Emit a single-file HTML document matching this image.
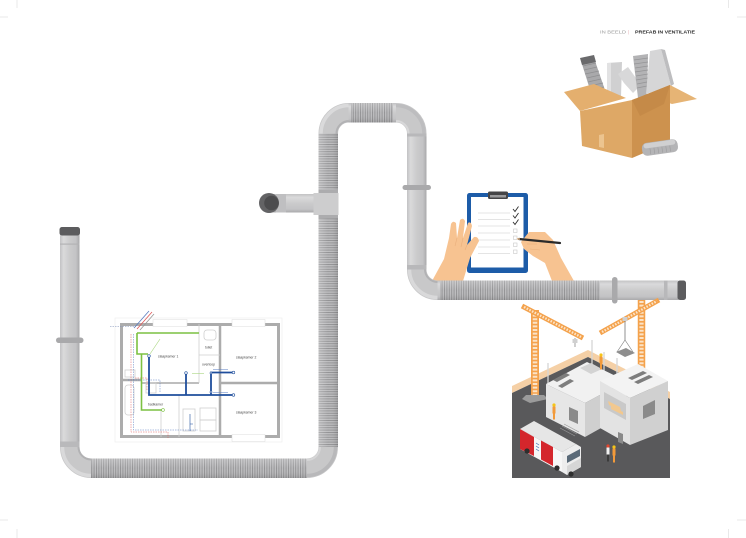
<!DOCTYPE html>
<html><head><meta charset="utf-8">
<style>html,body{margin:0;padding:0;background:#fff;}svg{display:block}</style>
</head>
<body>
<svg width="746" height="538" viewBox="0 0 746 538" xmlns="http://www.w3.org/2000/svg" font-family="Liberation Sans, sans-serif">
<defs>
 <linearGradient id="gv" x1="0" y1="0" x2="1" y2="0">
  <stop offset="0" stop-color="#c2c2c4"/><stop offset="0.18" stop-color="#dadadb"/><stop offset="0.5" stop-color="#cbcbcc"/><stop offset="0.82" stop-color="#c3c3c5"/><stop offset="1" stop-color="#a9a9ab"/>
 </linearGradient>
 <linearGradient id="gh" x1="0" y1="0" x2="0" y2="1">
  <stop offset="0" stop-color="#c2c2c4"/><stop offset="0.18" stop-color="#dadadb"/><stop offset="0.5" stop-color="#cbcbcc"/><stop offset="0.82" stop-color="#c3c3c5"/><stop offset="1" stop-color="#a9a9ab"/>
 </linearGradient>
 <linearGradient id="sv" x1="0" y1="0" x2="1" y2="0">
  <stop offset="0" stop-color="#fff" stop-opacity="0.25"/><stop offset="0.5" stop-color="#fff" stop-opacity="0"/><stop offset="1" stop-color="#000" stop-opacity="0.12"/>
 </linearGradient>
 <linearGradient id="sh" x1="0" y1="0" x2="0" y2="1">
  <stop offset="0" stop-color="#fff" stop-opacity="0.25"/><stop offset="0.5" stop-color="#fff" stop-opacity="0"/><stop offset="1" stop-color="#000" stop-opacity="0.12"/>
 </linearGradient>
 <pattern id="cv" width="4" height="2.4" patternUnits="userSpaceOnUse">
  <rect width="4" height="2.4" fill="#bebec0"/><rect width="4" height="1" fill="#939395"/>
 </pattern>
 <pattern id="ch" width="2.4" height="4" patternUnits="userSpaceOnUse">
  <rect width="2.4" height="4" fill="#bebec0"/><rect width="1" height="4" fill="#939395"/>
 </pattern>
</defs>

<!-- crop marks -->
<g stroke="#dadada" stroke-width="0.6">
 <line x1="17" y1="0" x2="17" y2="8"/><line x1="0" y1="17" x2="8" y2="17"/>
 <line x1="728.5" y1="0" x2="728.5" y2="8"/><line x1="737" y1="17" x2="746" y2="17"/>
 <line x1="0" y1="520" x2="8" y2="520"/><line x1="17" y1="529" x2="17" y2="538"/>
 <line x1="737" y1="520" x2="746" y2="520"/><line x1="728.5" y1="529" x2="728.5" y2="538"/>
</g>

<!-- header -->
<text x="600" y="33.5" font-size="4.3" fill="#9b9b9b" textLength="26" lengthAdjust="spacingAndGlyphs">IN BEELD</text>
<text x="628.3" y="33.5" font-size="4.3" fill="#e3a3a8">|</text>
<text x="635" y="33.5" font-size="4.3" font-weight="bold" fill="#2b2b2b" textLength="60" lengthAdjust="spacingAndGlyphs">PREFAB IN VENTILATIE</text>

<!-- ===== BOX ===== -->
<g>
 <polygon points="581,61 594,58 606,93 592,96" fill="#a9a9ab"/>
 <g stroke="#8f8f91" stroke-width="0.8">
  <line x1="583" y1="66" x2="596" y2="63"/><line x1="584" y1="70" x2="597" y2="67"/><line x1="585" y1="74" x2="599" y2="71"/>
  <line x1="587" y1="78" x2="600" y2="75"/><line x1="588" y1="82" x2="601" y2="79"/><line x1="589" y1="86" x2="603" y2="83"/><line x1="590" y1="90" x2="604" y2="87"/>
 </g>
 <polygon points="580,58 594,55 596,62 582,65" fill="#6a6a6c"/>
 <polygon points="607,63 622,62 621,97 607,97" fill="#d0d0d1"/>
 <polygon points="607,63 611,63 611,97 607,97" fill="#e2e2e3"/>
 <polygon points="618,74 628,67 641,85 633,93 624,83" fill="#d8d8d9"/>
 <polygon points="633,56 648,54 647,98 638,98" fill="#b3b3b5"/>
 <g stroke="#959597" stroke-width="0.8">
  <line x1="634" y1="60" x2="648" y2="58"/><line x1="634" y1="64" x2="648" y2="62"/><line x1="635" y1="68" x2="648" y2="66"/><line x1="635" y1="72" x2="648" y2="70"/>
  <line x1="636" y1="76" x2="648" y2="74"/><line x1="636" y1="80" x2="648" y2="78"/><line x1="637" y1="84" x2="647" y2="82"/><line x1="637" y1="88" x2="647" y2="86"/>
 </g>
 <polygon points="650,51 661,49 671,86 646,94" fill="#d6d6d7"/>
 <polygon points="661,49 665,50 674,84 671,86" fill="#bdbdbf"/>
 <!-- flaps -->
 <polygon points="564,92 594,84 626,98 580,111" fill="#e4af6e"/>
 <polygon points="646,95 670,85 697,99 672,104" fill="#e6b475"/>
 <!-- faces -->
 <polygon points="580,111 632,100 632,158 582,146" fill="#dea866"/>
 <polygon points="632,100 670,85 670,142 632,158" fill="#cd924e"/>
 <polygon points="632,100 670,85 664,104 640,116" fill="#c58a48"/>
 <polygon points="599,135 604,134 604,148 599,147" fill="#ecc48f"/>
 <!-- flat duct -->
 <g transform="rotate(-8 660 148)">
  <rect x="642" y="141" width="36" height="13" rx="5" fill="#b4b4b6"/>
  <rect x="644" y="141.5" width="32" height="5" rx="2.5" fill="#d0d0d1"/>
  <g stroke="#9c9c9e" stroke-width="0.6"><line x1="650" y1="147" x2="650" y2="153"/><line x1="654" y1="147" x2="654" y2="153"/><line x1="658" y1="147" x2="658" y2="153"/><line x1="662" y1="147" x2="662" y2="153"/><line x1="666" y1="147" x2="666" y2="153"/><line x1="670" y1="147" x2="670" y2="153"/></g>
 </g>
</g>

<!-- ===== PIPES ===== -->
<!-- left vertical A -->
<rect x="60" y="234" width="19.5" height="213" fill="url(#gv)"/>
<rect x="60" y="243.5" width="19.5" height="1.2" fill="#b3b3b5"/>
<rect x="60" y="441.5" width="19.5" height="5.5" fill="#b9b9bb"/>
<rect x="59.5" y="227" width="20.5" height="8.5" rx="2.5" fill="#5c5c5e"/>
<rect x="56" y="337.5" width="27.5" height="5.5" rx="2.7" fill="#a9a9ab"/>
<!-- elbow A -->
<path d="M69.75 447 A21.25 21.25 0 0 0 91 468.25" fill="none" stroke="#c8c8c9" stroke-width="19.5"/>
<path d="M62.5 447 A28.5 28.5 0 0 0 91 475.5" fill="none" stroke="#d9d9da" stroke-width="3.5"/>
<path d="M78.5 447 A12.5 12.5 0 0 0 91 459.5" fill="none" stroke="#b2b2b4" stroke-width="2"/>
<!-- bottom horizontal B -->
<rect x="91" y="458.5" width="216" height="19.5" fill="url(#ch)"/>
<rect x="91" y="458.5" width="216" height="19.5" fill="url(#sh)"/>
<!-- elbow C -->
<path d="M307 468.25 A21.25 21.25 0 0 0 328.25 447" fill="none" stroke="#c8c8c9" stroke-width="19.5"/>
<path d="M307 475.5 A28.5 28.5 0 0 0 335.5 447" fill="none" stroke="#b8b8ba" stroke-width="3.5"/>
<path d="M307 460 A13 13 0 0 0 320 447" fill="none" stroke="#d6d6d7" stroke-width="2"/>
<!-- vertical D corrugated -->
<rect x="318.5" y="133.5" width="19.5" height="313.5" fill="url(#cv)"/>
<rect x="318.5" y="133.5" width="19.5" height="313.5" fill="url(#sv)"/>
<!-- elbow E -->
<path d="M328.25 133.5 A20.75 20.75 0 0 1 349 112.75" fill="none" stroke="#c8c8c9" stroke-width="19.5"/>
<path d="M321 133.5 A28 28 0 0 1 349 105.5" fill="none" stroke="#dadadb" stroke-width="3.5"/>
<path d="M336.5 133.5 A12.5 12.5 0 0 1 349 121" fill="none" stroke="#b2b2b4" stroke-width="2"/>
<!-- top horizontal F -->
<rect x="348.5" y="103" width="48" height="19.5" fill="url(#gh)"/>
<rect x="351" y="103" width="42" height="19.5" fill="url(#ch)"/>
<rect x="351" y="103" width="42" height="19.5" fill="url(#sh)"/>
<!-- elbow top-right -->
<path d="M396 112.75 A20.75 20.75 0 0 1 416.75 133.5" fill="none" stroke="#c8c8c9" stroke-width="19.5"/>
<path d="M396 105.5 A28 28 0 0 1 424 133.5" fill="none" stroke="#bdbdbf" stroke-width="3.5"/>
<path d="M396 121 A12.5 12.5 0 0 1 408.5 133.5" fill="none" stroke="#d8d8d9" stroke-width="2"/>
<!-- vertical G -->
<rect x="407" y="133.5" width="19.5" height="136" fill="url(#gv)"/>
<rect x="407" y="133.5" width="19.5" height="3" fill="#b8b8ba"/>
<rect x="407" y="265" width="19.5" height="4.5" fill="#b8b8ba"/>
<rect x="402.5" y="185" width="28.5" height="5" rx="2.5" fill="#a9a9ab"/>

<!-- ===== CLIPBOARD & HANDS ===== -->
<rect x="467" y="193" width="61" height="80" rx="2.5" fill="#1d5ca8"/>
<rect x="471" y="197" width="52.5" height="70.5" fill="#fff"/>
<rect x="488" y="191.5" width="20" height="7.5" rx="1.5" fill="#454547"/>
<rect x="490" y="195" width="16" height="2.5" fill="#9a9a9c"/>
<g stroke="#e4e4e4" stroke-width="0.9">
 <line x1="478" y1="213" x2="510" y2="213"/><line x1="478" y1="219.5" x2="510" y2="219.5"/><line x1="478" y1="226" x2="510" y2="226"/>
 <line x1="478" y1="233" x2="510" y2="233"/><line x1="478" y1="240" x2="510" y2="240"/><line x1="478" y1="247" x2="510" y2="247"/><line x1="478" y1="253.5" x2="510" y2="253.5"/>
</g>
<g fill="none" stroke="#2d2d2d" stroke-width="0.9">
 <polyline points="513,209 515,211.5 518.5,206.5"/><polyline points="513,215.5 515,218 518.5,213"/><polyline points="513,222 515,224.5 518.5,219.5"/>
</g>
<g fill="none" stroke="#c8c8c8" stroke-width="0.6">
 <rect x="513.5" y="229" width="3.5" height="3.5"/><rect x="513.5" y="236" width="3.5" height="3.5"/><rect x="513.5" y="243" width="3.5" height="3.5"/><rect x="513.5" y="250" width="3.5" height="3.5"/>
</g>
<!-- left hand -->
<path d="M432 281 L444 259 L449 238 L451 224 Q453 220 456 223 L457 238 L460 220 Q463 217 465 221 L463 238 L468 223 Q471 221 472 226 L467 245 L474 237 Q478 236 479 241 L470 258 L463 281 Z" fill="#f7c391"/>
<g stroke="#eab07c" stroke-width="0.6" fill="none"><line x1="457" y1="238" x2="455" y2="246"/><line x1="463" y1="238" x2="461" y2="247"/><line x1="467" y1="245" x2="465" y2="250"/></g>
<!-- right hand -->
<path d="M521 242 L529 232 L545 232 L553 240 L561 258 L574 281 L552 281 L545 263 L533 256 L524 249 Z" fill="#f7c391"/>
<g stroke="#eab07c" stroke-width="0.6" fill="none"><path d="M527 244 L537 244"/><path d="M530 249 L540 250"/></g>
<line x1="519" y1="239" x2="560" y2="243" stroke="#2b2b2b" stroke-width="2.2" stroke-linecap="round"/>
<line x1="517" y1="238.8" x2="520" y2="239.1" stroke="#e2b78a" stroke-width="1.4"/>

<!-- elbow H + bottom pipe I -->
<path d="M416.75 269.5 A20.75 20.75 0 0 0 437.5 290.25" fill="none" stroke="#c8c8c9" stroke-width="19.5"/>
<path d="M409.5 269.5 A28 28 0 0 0 437.5 297.5" fill="none" stroke="#d9d9da" stroke-width="3.5"/>
<path d="M425 269.5 A12.5 12.5 0 0 0 437.5 282" fill="none" stroke="#b2b2b4" stroke-width="2"/>
<rect x="437.5" y="280.5" width="241" height="19.5" fill="url(#gh)"/>
<rect x="440" y="280.5" width="160" height="19.5" fill="url(#ch)"/>
<rect x="440" y="280.5" width="160" height="19.5" fill="url(#sh)"/>
<rect x="664" y="280.5" width="3.5" height="19.5" fill="#b8b8ba"/>
<rect x="612" y="277" width="5.5" height="26.5" rx="2.7" fill="#a9a9ab"/>
<rect x="677.5" y="280.5" width="8.5" height="19.5" rx="2.5" fill="#5c5c5e"/>

<!-- side branch J -->
<rect x="270" y="194" width="46" height="18.5" fill="url(#gh)"/>
<rect x="276" y="194" width="10" height="18.5" fill="#bfbfc1"/>
<circle cx="269" cy="203" r="10" fill="#636365"/>
<circle cx="271.5" cy="203" r="7.3" fill="#4c4c4e"/>
<rect x="318.5" y="189.5" width="19.5" height="3.5" fill="#acacae"/>
<rect x="318.5" y="215" width="19.5" height="3.5" fill="#acacae"/>
<rect x="313.5" y="193" width="25" height="22" fill="#cdcdce"/>

<!-- ===== FLOOR PLAN ===== -->
<g>
 <rect x="115" y="318" width="167" height="124" fill="#fff" stroke="#ececec" stroke-width="0.6"/>
 <rect x="121.5" y="324.5" width="157" height="112" fill="none" stroke="#acacac" stroke-width="3"/>
 <rect x="153" y="319.5" width="34" height="7" fill="#fff" stroke="#dedede" stroke-width="0.5"/>
 <rect x="232" y="319.5" width="33" height="7" fill="#fff" stroke="#dedede" stroke-width="0.5"/>
 <rect x="232" y="434.5" width="33" height="7" fill="#fff" stroke="#dedede" stroke-width="0.5"/>
 <g stroke="#acacac">
  <line x1="220" y1="324" x2="220" y2="437" stroke-width="2.5"/>
  <line x1="220" y1="383" x2="279" y2="383" stroke-width="2.5"/>
  <line x1="141" y1="383" x2="199" y2="383" stroke-width="1.8" stroke="#b5b5b5"/>
  <line x1="121" y1="380" x2="141" y2="380" stroke-width="2.5"/>
 </g>
 <g stroke="#cfcfcf" stroke-width="0.8" fill="none">
  <line x1="199" y1="324" x2="199" y2="383"/>
  <line x1="199" y1="355" x2="220" y2="355"/>
  <line x1="161" y1="410" x2="161" y2="437"/>
  <line x1="179" y1="395" x2="179" y2="437"/>
  <rect x="183" y="409" width="12" height="22"/>
  <rect x="200" y="408" width="16" height="12"/>
  <rect x="200" y="420" width="16" height="11"/>
  <rect x="125" y="385" width="9" height="30" rx="3"/>
  <rect x="125" y="370" width="10" height="7"/>
  <rect x="146" y="383" width="10" height="10"/>
  <rect x="204" y="330" width="12" height="10" rx="3"/>
 </g>
 <!-- dashed service lines -->
 <g fill="none" stroke-width="0.5" stroke-dasharray="1.5 1">
  <path d="M131 334 V432 H168 V438" stroke="#e05858"/>
  <path d="M133.5 334 V430 H198" stroke="#5a7cc0"/>
  <path d="M128 380 H160 V392" stroke="#5a7cc0"/>
  <path d="M110 326.5 H136" stroke="#7b8db5"/>
  <path d="M135 378 H147 V390" stroke="#e05858"/>
 </g>
 <g stroke-width="0.8">
  <line x1="134" y1="328" x2="149" y2="311" stroke="#5a7cc0"/>
  <line x1="137" y1="329" x2="152" y2="312" stroke="#e05858"/>
  <line x1="140" y1="330" x2="154" y2="314" stroke="#999"/>
 </g>
 <!-- green -->
 <g fill="none" stroke="#7cc142" stroke-width="1.6">
  <path d="M137 333 H199"/>
  <path d="M137 333 V354 H148"/>
  <path d="M141.5 354 V410 H162"/>
 </g>
 <line x1="150" y1="354" x2="160" y2="339" stroke="#a8d67f" stroke-width="0.6"/>
 <line x1="192" y1="373.5" x2="204" y2="373.5" stroke="#a8d67f" stroke-width="0.6"/>
 <circle cx="163" cy="410" r="1.4" fill="#fff" stroke="#7cc142" stroke-width="0.6"/>
 <!-- blue -->
 <g fill="none" stroke="#1f4e9c" stroke-width="1.8">
  <path d="M149 357 V395 H233"/>
  <path d="M186 374 V395"/>
  <path d="M211 395 V372.5 H233"/>
 </g>
 <g fill="#fff" stroke="#1f4e9c" stroke-width="0.6">
  <circle cx="149" cy="356" r="1.3"/><circle cx="186" cy="373" r="1.3"/><circle cx="233.5" cy="372.5" r="1.3"/><circle cx="233.5" cy="395" r="1.3"/><circle cx="211" cy="373" r="1"/><circle cx="211" cy="392" r="1"/>
 </g>
 <line x1="213" y1="369.5" x2="228" y2="369.5" stroke="#5a7cc0" stroke-width="0.5"/>
 <line x1="213" y1="392.5" x2="228" y2="392.5" stroke="#5a7cc0" stroke-width="0.5"/>
 <path d="M190 431 V414 M193 424 H190" fill="none" stroke="#1f4e9c" stroke-width="0.6"/>
 <g font-size="3.4" fill="#4a4a4a">
  <text x="158" y="357.5">slaapkamer 1</text>
  <text x="205" y="348.5">toilet</text>
  <text x="202" y="365.5">overloop</text>
  <text x="236" y="358.5">slaapkamer 2</text>
  <text x="148" y="405.5">badkamer</text>
  <text x="236" y="413.5">slaapkamer 3</text>
 </g>
</g>

<!-- ===== CONSTRUCTION ===== -->
<g>
 <polygon points="512,386 588,350 670,392 670,399 588,357 512,393" fill="#f5d0a6"/>
 <polygon points="512,393 588,357 670,399 670,478 512,478" fill="#59595b"/>
 <!-- left crane -->
 <line x1="535" y1="310" x2="535" y2="396" stroke="#f4a24c" stroke-width="8"/>
 <line x1="535" y1="311" x2="535" y2="395" stroke="#fbe3c7" stroke-width="4.5" stroke-dasharray="2 1.6"/>
 <polygon points="526,395 544,395 548,399 530,403 522,399" fill="#9b9b9b"/>
 <line x1="522" y1="306" x2="583" y2="338" stroke="#f4a24c" stroke-width="5"/>
 <line x1="524" y1="307" x2="581" y2="337" stroke="#fbe3c7" stroke-width="2.4" stroke-dasharray="1.6 1.4"/>
 <line x1="575" y1="338" x2="575" y2="347" stroke="#888" stroke-width="0.8"/>
 <rect x="572.5" y="339" width="5" height="4" fill="#d0d0d0"/>
 <!-- right crane -->
 <line x1="641.5" y1="300" x2="641.5" y2="383" stroke="#f4a24c" stroke-width="7.5"/>
 <line x1="641.5" y1="301" x2="641.5" y2="382" stroke="#fbe3c7" stroke-width="4.2" stroke-dasharray="2 1.6"/>
 <line x1="600" y1="333" x2="659" y2="300" stroke="#f4a24c" stroke-width="5"/>
 <line x1="602" y1="332" x2="657" y2="301" stroke="#fbe3c7" stroke-width="2.4" stroke-dasharray="1.6 1.4"/>
 <line x1="625" y1="318" x2="625" y2="340" stroke="#777" stroke-width="0.8"/>
 <rect x="622.5" y="317" width="5" height="4" fill="#d0d0d0"/>
 <path d="M625 340 L617 352 M625 340 L633 352" stroke="#777" stroke-width="0.6" fill="none"/>
 <polygon points="616,352 626,348 635,353 625,357" fill="#8e8e8e"/>
 <!-- poles -->
 <g stroke="#d6d6d6" stroke-width="1.3">
  <line x1="592" y1="340" x2="592" y2="368"/><line x1="604" y1="352" x2="604" y2="372"/><line x1="548" y1="363" x2="548" y2="388"/><line x1="617" y1="358" x2="617" y2="380"/>
 </g>
 <!-- building A -->
 <polygon points="546,384 587,362 626,381 585,403" fill="#f1f1f1"/>
 <polygon points="546,384 585,403 585,437 546,417" fill="#e6e6e6"/>
 <polygon points="585,403 626,381 626,414 585,437" fill="#cfcfcf"/>
 <polygon points="580,368 591,363 602,369 591,374" fill="#d3d3d3"/>
 <polygon points="569,407 578,411 578,424 569,420" fill="#8a8a8a"/>
 <polygon points="553,380 566,373 570,375 557,382" fill="#7d7d7d"/>
 <polygon points="558,386 570,379 574,381 562,388" fill="#7d7d7d"/>
 <!-- building B -->
 <polygon points="600,381 638,364 668,381 630,398" fill="#f3f3f3"/>
 <polygon points="600,381 630,398 630,445 600,428" fill="#e3e3e3"/>
 <polygon points="604,392 626,404 626,420 604,408" fill="#c9c9c9"/>
 <polygon points="608,401 620,407 621,411 609,405" fill="#f2c88e"/>
 <polygon points="611,406 623,412 623,415 611,409" fill="#f2c88e"/>
 <polygon points="630,398 668,381 668,430 630,445" fill="#d0d0d0"/>
 <polygon points="643,406 655,400 655,414 643,419" fill="#8a8a8a"/>
 <polygon points="628,378 643,371 647,373 632,380" fill="#7d7d7d"/>
 <polygon points="634,382 649,375 653,377 638,384" fill="#7d7d7d"/>
 <polygon points="618,432 623,434 623,444 618,442" fill="#8a8a8a"/>
 <!-- pallet on ground -->
 <g stroke="#9a9a9a" stroke-width="0.7"><line x1="560" y1="428" x2="575" y2="436"/><line x1="562" y1="426" x2="577" y2="434"/><line x1="564" y1="424" x2="579" y2="432"/></g>
 <!-- workers -->
 <g>
  <circle cx="601" cy="355" r="1.6" fill="#f5c518"/><rect x="599.5" y="356.5" width="3" height="7" fill="#f29a3a"/><rect x="600" y="363.5" width="2" height="6" fill="#f29a3a"/>
  <circle cx="554" cy="405" r="1.6" fill="#f5c518"/><rect x="552.5" y="406.5" width="3" height="7" fill="#f29a3a"/><rect x="553" y="413.5" width="2" height="6" fill="#f29a3a"/>
  <circle cx="608" cy="446" r="1.6" fill="#e0462f"/><rect x="606.5" y="447.5" width="3" height="7" fill="#f0f0f0"/><rect x="607" y="454.5" width="2" height="7" fill="#3b3b3b"/>
  <circle cx="614" cy="447" r="1.6" fill="#f5c518"/><rect x="612.5" y="448.5" width="3" height="7" fill="#f29a3a"/><rect x="613" y="455.5" width="2" height="7" fill="#f29a3a"/>
 </g>
 <!-- truck -->
 <polygon points="520,429 534,421 576,444 562,452" fill="#e6e6e6"/>
 <polygon points="520,429 562,452 562,472 520,449" fill="#f6f6f6"/>
 <polygon points="520,429 534,437 534,456 520,449" fill="#d4262c"/>
 <polygon points="541,440.5 553,447 553,466 541,459.5" fill="#d4262c"/>
 <g stroke="#3b6fb6" stroke-width="0.7"><line x1="536" y1="443" x2="539" y2="445"/><line x1="536" y1="446" x2="539" y2="448"/><line x1="536" y1="449" x2="539" y2="451"/></g>
 <polygon points="562,452 576,444 581,447 581,467 567,475 562,472" fill="#ededed"/>
 <polygon points="567,456 580,449 580,456 567,463" fill="#5a6a78"/>
 <polygon points="567,466 581,458 581,467 567,475" fill="#d6d6d6"/>
 <circle cx="527" cy="451" r="2.6" fill="#2e2e2e"/><circle cx="557" cy="468" r="2.6" fill="#2e2e2e"/><circle cx="571" cy="474" r="2.6" fill="#2e2e2e"/>
</g>
</svg>
</body></html>
